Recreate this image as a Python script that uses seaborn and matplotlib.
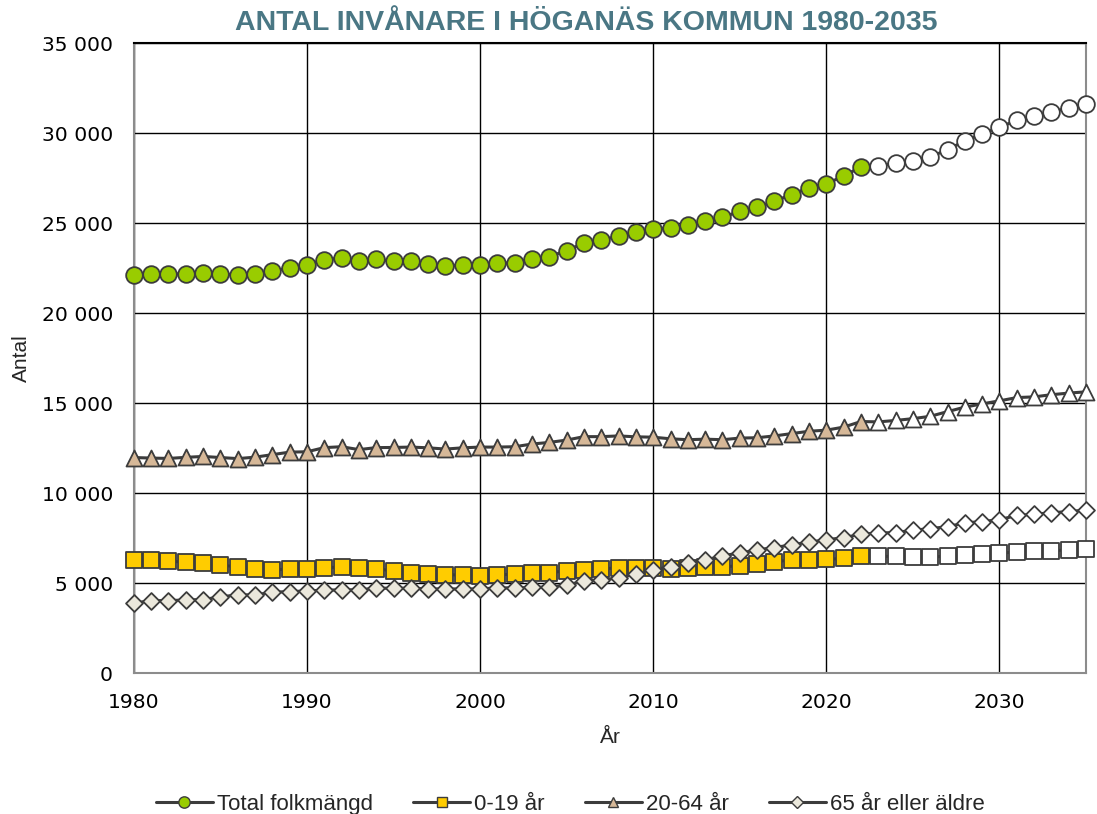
import matplotlib
matplotlib.use("Agg")
import matplotlib.pyplot as plt
from matplotlib.lines import Line2D
from matplotlib.ticker import FuncFormatter
import numpy as np
import pandas as pd
import seaborn as sns

# data
years = list(range(1980, 2036))
last_observed = 2022  # later years are the forecast (open markers)

total = [22110, 22180, 22180, 22180, 22220, 22180, 22110, 22150, 22330, 22530,
         22670, 22980, 23060, 22890, 23000, 22890, 22870, 22720, 22610, 22680,
         22650, 22760, 22800, 23020, 23140, 23480, 23890, 24090, 24260, 24500,
         24690, 24720, 24870, 25110, 25330, 25650, 25870, 26220, 26590, 26970,
         27190, 27610, 28130, 28170, 28350, 28480, 28670, 29090, 29560, 29960,
         30330, 30710, 30940, 31180, 31400, 31620]
age_0_19 = [6270, 6260, 6220, 6170, 6120, 6010, 5900, 5810, 5750, 5780,
            5810, 5870, 5890, 5870, 5810, 5670, 5580, 5510, 5470, 5450,
            5410, 5470, 5490, 5560, 5580, 5690, 5750, 5810, 5840, 5870,
            5840, 5810, 5860, 5900, 5900, 5980, 6070, 6200, 6280, 6310,
            6320, 6380, 6530, 6490, 6490, 6450, 6440, 6510, 6550, 6610,
            6680, 6720, 6760, 6790, 6860, 6910]
age_20_64 = [11980, 11950, 11930, 11990, 12040, 11980, 11920, 12000, 12140, 12280,
             12300, 12530, 12580, 12420, 12530, 12540, 12560, 12520, 12450, 12520,
             12560, 12560, 12580, 12730, 12820, 12950, 13140, 13140, 13180, 13130,
             13110, 13020, 12970, 13000, 12970, 13060, 13080, 13180, 13310, 13440,
             13500, 13670, 13980, 13960, 14040, 14140, 14270, 14530, 14780, 14960,
             15130, 15310, 15350, 15470, 15560, 15630]
age_65 = [3890, 4030, 4030, 4070, 4090, 4240, 4350, 4350, 4500, 4530,
          4570, 4610, 4630, 4630, 4720, 4720, 4720, 4680, 4680, 4680,
          4680, 4740, 4740, 4760, 4790, 4890, 5130, 5180, 5290, 5500,
          5720, 5920, 6110, 6280, 6530, 6670, 6850, 6980, 7130, 7280,
          7410, 7530, 7720, 7790, 7810, 7940, 8030, 8140, 8350, 8420,
          8530, 8760, 8830, 8910, 8980, 9060]

series_names = ["Total folkmängd", "0-19 år", "20-64 år", "65 år eller äldre"]
series_values = [total, age_0_19, age_20_64, age_65]

# styles per series: marker, fill colour, marker size
styles = {
    "Total folkmängd": ("o", "#99cc00", 12),
    "0-19 år": ("s", "#ffcc00", 11.5),
    "20-64 år": ("^", "#d6b898", 11.5),
    "65 år eller äldre": ("D", "#ebe8dc", 8.6),
}
line_col = "#3c3c3c"
sans = ["Liberation Sans", "DejaVu Sans"]

df = pd.concat(
    [pd.DataFrame({"year": years, "antal": vals, "serie": name})
     for name, vals in zip(series_names, series_values)],
    ignore_index=True)
df["prognos"] = df["year"] > last_observed

sns.set_style("white")
plt.rcParams["font.family"] = ["DejaVu Sans"]

fig, ax = plt.subplots(figsize=(10.97, 8.14), dpi=100)
fig.subplots_adjust(left=0.122, right=0.990, top=0.947, bottom=0.173)

for name in series_names:
    marker, fill, ms = styles[name]
    sub = df[df["serie"] == name]
    sns.lineplot(data=sub, x="year", y="antal", color=line_col, linewidth=2.2,
                 ax=ax, legend=False, zorder=3)
    hist = sub[~sub["prognos"]]
    prog = sub[sub["prognos"]]
    sns.scatterplot(data=hist, x="year", y="antal", marker=marker, s=ms ** 2,
                    color=fill, edgecolor=line_col, linewidth=1.3, ax=ax,
                    legend=False, zorder=4, clip_on=False)
    sns.scatterplot(data=prog, x="year", y="antal", marker=marker, s=ms ** 2,
                    color="white", edgecolor=line_col, linewidth=1.3, ax=ax,
                    legend=False, zorder=4, clip_on=False)

ax.set_xlim(1980, 2035)
ax.set_ylim(0, 35000)
ax.set_xticks(range(1980, 2031, 10))
ax.set_yticks(range(0, 35001, 5000))
ax.yaxis.set_major_formatter(FuncFormatter(lambda v, p: f"{int(v):,}".replace(",", " ")))
ax.grid(True, color="black", linewidth=1.0)
ax.set_axisbelow(True)
for side in ["left", "bottom", "right"]:
    ax.spines[side].set_color("#8c8c8c")
    ax.spines[side].set_linewidth(1.5)
ax.spines["top"].set_color("black")
ax.spines["top"].set_linewidth(1.5)
ax.tick_params(axis="both", direction="out", length=4.5, width=1.2, color="#8c8c8c",
               labelsize=14.6, labelcolor="black")
ax.tick_params(axis="y", pad=10.5)
ax.tick_params(axis="x", pad=10)

ax.set_xlabel("År", fontsize=15, family=sans, labelpad=11)
ax.set_ylabel("Antal", fontsize=15, family=sans, labelpad=8)

fig.text(0.534, 0.972, "ANTAL INVÅNARE I HÖGANÄS KOMMUN 1980-2035",
         ha="center", va="center", fontsize=20.5, fontweight="bold",
         color="#4a7784", family=sans)

handles = []
for name in series_names:
    marker, fill, ms = styles[name]
    handles.append(Line2D([], [], color=line_col, linewidth=2.2, marker=marker,
                          markersize=ms * 0.68, markerfacecolor=fill,
                          markeredgecolor=line_col, markeredgewidth=1.0))
fig.legend(handles, series_names, loc="center", bbox_to_anchor=(0.52, 0.012),
           ncol=4, frameon=False, handlelength=2.55, handletextpad=0.2,
           columnspacing=1.8, borderpad=0, prop={"family": sans, "size": 16})

fig.savefig("out.png", dpi=100)
